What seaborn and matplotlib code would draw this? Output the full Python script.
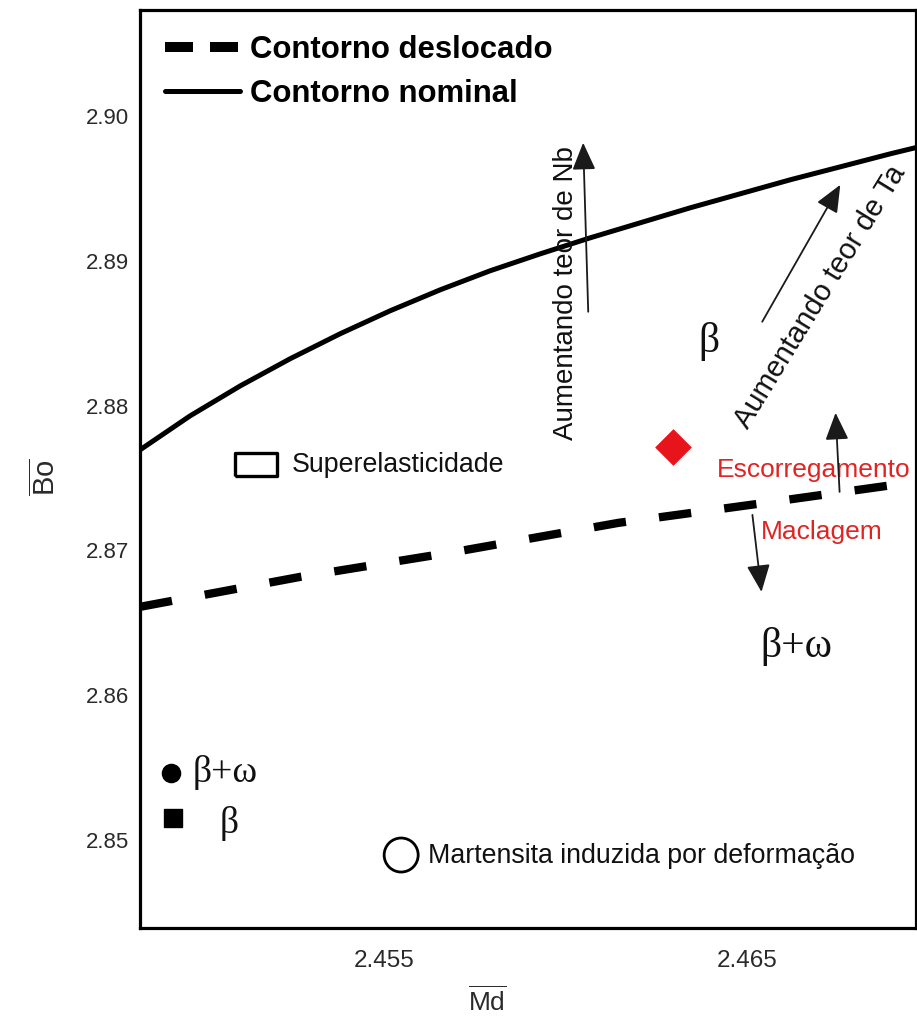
import matplotlib
matplotlib.use("Agg")
import matplotlib.pyplot as plt
from matplotlib.lines import Line2D
import seaborn as sns
import pandas as pd

# Phase-stability boundaries in the (Md, Bo) plane
md_nominal = [2.44828, 2.44966, 2.45104, 2.45241, 2.45379, 2.45517, 2.45655, 2.45792, 2.45930,
              2.46068, 2.46206, 2.46343, 2.46481, 2.46619, 2.46756, 2.46894, 2.46963]
bo_nominal = [2.87694, 2.87929, 2.88136, 2.88323, 2.88496, 2.88655, 2.88800, 2.88931, 2.89048,
              2.89159, 2.89263, 2.89366, 2.89463, 2.89560, 2.89649, 2.89739, 2.89781]

md_shifted = [2.44828, 2.45269, 2.45696, 2.46145, 2.46508, 2.46963]
bo_shifted = [2.86610, 2.86817, 2.86990, 2.87190, 2.87314, 2.87473]

# Alloy of interest
alloy_md = [2.46296]
alloy_bo = [2.87715]

# Key symbols
key_labels = ["Superelasticidade", "β+ω", "β", "Martensita induzida por deformação"]
key_md = [2.45148, 2.44913, 2.44919, 2.45547]
key_bo = [2.87591, 2.85463, 2.85152, 2.84896]

x_ticks = [2.455, 2.465]
y_ticks = [2.85, 2.86, 2.87, 2.88, 2.89, 2.90]

sns.set_theme(style="white")
plt.rcParams["font.family"] = ["Liberation Sans", "DejaVu Sans"]
plt.rcParams["mathtext.fontset"] = "custom"
plt.rcParams["mathtext.rm"] = "Liberation Sans"

fig = plt.figure(figsize=(9.17, 10.29), dpi=100)
ax = fig.add_axes([140 / 917, 101 / 1029, 775.5 / 917, 918 / 1029])

nom = pd.DataFrame({"Md": md_nominal, "Bo": bo_nominal})
sh = pd.DataFrame({"Md": md_shifted, "Bo": bo_shifted})

sns.lineplot(data=nom, x="Md", y="Bo", ax=ax, color="black", lw=3.6,
             sort=False, estimator=None)
sns.lineplot(data=sh, x="Md", y="Bo", ax=ax, color="black", lw=6.0,
             sort=False, estimator=None)
ax.lines[-1].set_linestyle((0, (3.9, 4.0)))
ax.lines[-1].set_dash_capstyle("butt")

# Markers
sns.scatterplot(x=alloy_md, y=alloy_bo, ax=ax, marker="D", s=330,
                color="#e8141c", edgecolor="#e8141c", linewidth=0.5, zorder=5)
rect = [(-1, -0.55), (1, -0.55), (1, 0.55), (-1, 0.55), (-1, -0.55)]
sns.scatterplot(x=[key_md[0]], y=[key_bo[0]], ax=ax, marker=rect, s=900,
                facecolor="none", edgecolor="black", linewidth=2.4, zorder=5)
sns.scatterplot(x=[key_md[1]], y=[key_bo[1]], ax=ax, marker="o", s=170,
                color="black", edgecolor="black", zorder=5)
sns.scatterplot(x=[key_md[2]], y=[key_bo[2]], ax=ax, marker="s", s=150,
                color="black", edgecolor="black", zorder=5)
sns.scatterplot(x=[key_md[3]], y=[key_bo[3]], ax=ax, marker="o", s=600,
                facecolor="none", edgecolor="black", linewidth=2.0, zorder=5)

sans = dict(family=["Liberation Sans", "DejaVu Sans"], color="#111111")
serif = dict(family=["Liberation Serif", "DejaVu Serif"], color="#111111")
red = dict(family=["Liberation Sans", "DejaVu Sans"], color="#e02424")

ax.text(2.45247, 2.87591, key_labels[0], fontsize=19.3, va="center", ha="left", **sans)
ax.text(2.44974, 2.85463, key_labels[1], fontsize=27, va="center", ha="left", **serif)
ax.text(2.45048, 2.85117, key_labels[2], fontsize=27, va="center", ha="left", **serif)
ax.text(2.45622, 2.84890, key_labels[3], fontsize=19.3, va="center", ha="left", **sans)

# Region labels
ax.text(2.46393, 2.88440, "β", fontsize=30, va="center", ha="center", **serif)
ax.text(2.46536, 2.86333, "β+ω", fontsize=30, va="center", ha="left", **serif)
ax.text(2.46682, 2.87556, "Escorregamento", fontsize=19, va="center", ha="center", **red)
ax.text(2.46536, 2.87128, "Maclagem", fontsize=19, va="center", ha="left", **red)

# Composition trends
arrow = dict(arrowstyle="-|>,head_length=1.4,head_width=0.6", color="#1a1a1a",
             lw=1.3, shrinkA=0, shrinkB=0)
ax.annotate("", xy=(2.46048, 2.89815), xytext=(2.46062, 2.88648), arrowprops=arrow)
ax.annotate("", xy=(2.46756, 2.89525), xytext=(2.46541, 2.88579), arrowprops=arrow)
ax.annotate("", xy=(2.46743, 2.87950), xytext=(2.46754, 2.87404), arrowprops=arrow)
ax.annotate("", xy=(2.46539, 2.86713), xytext=(2.46514, 2.87245), arrowprops=arrow)

ax.text(2.46002, 2.88780, "Aumentando teor de Nb", fontsize=20, rotation=90,
        va="center", ha="center", rotation_mode="anchor", **sans)
ax.text(2.46700, 2.88750, "Aumentando teor de Ta", fontsize=21, rotation=58.5,
        va="center", ha="center", rotation_mode="anchor", **sans)

# Axes styling
ax.set_xlim(2.44828, 2.46963)
ax.set_ylim(2.84392, 2.90732)
ax.set_xticks(x_ticks)
ax.set_xticklabels([f"{v:.3f}" for v in x_ticks])
ax.set_yticks(y_ticks)
ax.set_yticklabels([f"{v:.2f}" for v in y_ticks])
ax.tick_params(direction="in", length=11, width=2, colors="black",
               labelcolor="#2a2a2a")
ax.tick_params(axis="x", labelsize=17.5, pad=16)
ax.tick_params(axis="y", labelsize=16, pad=8)
for s in ax.spines.values():
    s.set_visible(True)
    s.set_color("black")
    s.set_linewidth(2.3)

ax.set_xlabel(r"$\overline{\mathrm{Md}}$", fontsize=19, color="#2a2a2a")
ax.set_ylabel(r"$\overline{\mathrm{Bo}}$", fontsize=21, color="#2a2a2a")
ax.xaxis.set_label_coords((487 - 140) / 775.5, (928 - 986) / 918)
ax.yaxis.set_label_coords((61 - 140) / 775.5, (928 - 477) / 918)

handles = [
    Line2D([], [], color="black", lw=7.2, linestyle=(0, (2.8, 1.7)),
           dash_capstyle="butt"),
    Line2D([], [], color="black", lw=3.6),
]
ax.legend(handles, ["Contorno deslocado", "Contorno nominal"], loc="upper left",
          bbox_to_anchor=(0, 1), borderaxespad=0, borderpad=0.8, frameon=False,
          handlelength=2.42, handletextpad=0.32, labelspacing=0.45,
          labelcolor="black",
          prop=dict(family="Liberation Sans", weight="bold", size=22.4))

fig.savefig("out.png", dpi=100)
